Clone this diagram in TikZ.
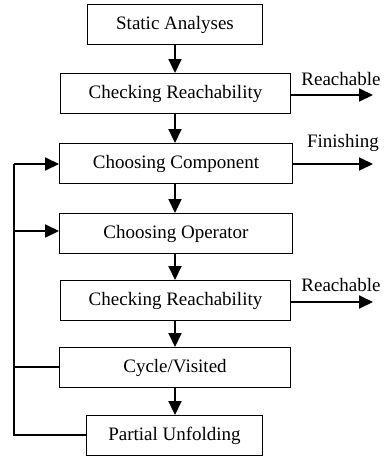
\documentclass[tikz,border=0pt]{standalone}
\usepackage{fontspec}
\setmainfont{Liberation Serif}
\usetikzlibrary{arrows.meta}
\begin{document}
\begin{tikzpicture}[x=1pt,y=-1pt,
  box/.style={draw, line width=1pt, inner sep=0pt, anchor=north west, font=\fontsize{19}{22}\selectfont},
  arr/.style={line width=2pt, -{Triangle[length=14pt,width=13pt]}},
  ln/.style={line width=2pt},
  lbl/.style={font=\fontsize{19}{22}\selectfont, inner sep=0pt}]
\useasboundingbox (0,0) rectangle (384,456);
\node[box, minimum width=175pt, minimum height=40pt] (s) at (87,4) {Static Analyses};
\node[box, minimum width=230pt, minimum height=40pt] (c1) at (60,73) {Checking Reachability};
\node[box, minimum width=233pt, minimum height=40pt] (cc) at (59,143) {Choosing Component};
\node[box, minimum width=233pt, minimum height=40pt] (co) at (59,213) {Choosing Operator};
\node[box, minimum width=230pt, minimum height=40pt] (c2) at (60,280) {Checking Reachability};
\node[box, minimum width=231pt, minimum height=40pt] (cv) at (59,347) {Cycle/Visited};
\node[box, minimum width=176pt, minimum height=40pt] (pu) at (86,415) {Partial Unfolding};

\draw[arr] (s.south -| 175,0) -- (c1.north -| 175,0);
\draw[arr] (c1.south -| 175,0) -- (cc.north -| 175,0);
\draw[arr] (cc.south -| 175,0) -- (co.north -| 175,0);
\draw[arr] (co.south -| 175,0) -- (c2.north -| 175,0);
\draw[arr] (c2.south -| 175,0) -- (cv.north -| 175,0);
\draw[arr] (cv.south -| 175,0) -- (pu.north -| 175,0);

\coordinate (r1) at (373,95);
\coordinate (r2) at (373,164);
\coordinate (r3) at (373,302);
\draw[arr] (c1.east |- r1) -- (r1);
\draw[arr] (cc.east |- r2) -- (r2);
\draw[arr] (c2.east |- r3) -- (r3);
\node[lbl] (l1) at (341,79) {Reachable};
\node[lbl] (l2) at (343,143) {Finishing};
\node[lbl] (l3) at (341,285) {Reachable};

\coordinate (lb) at (14,435);
\coordinate (lt) at (14,164);
\coordinate (lm) at (14,231);
\coordinate (lc) at (14,367);
\draw[ln] (pu.west |- lb) -- (lb) -- (lt);
\draw[ln] (cv.west |- lc) -- (lc);
\draw[arr] (lt) -- (cc.west |- lt);
\draw[arr] (lm) -- (co.west |- lm);
\end{tikzpicture}
\end{document}
